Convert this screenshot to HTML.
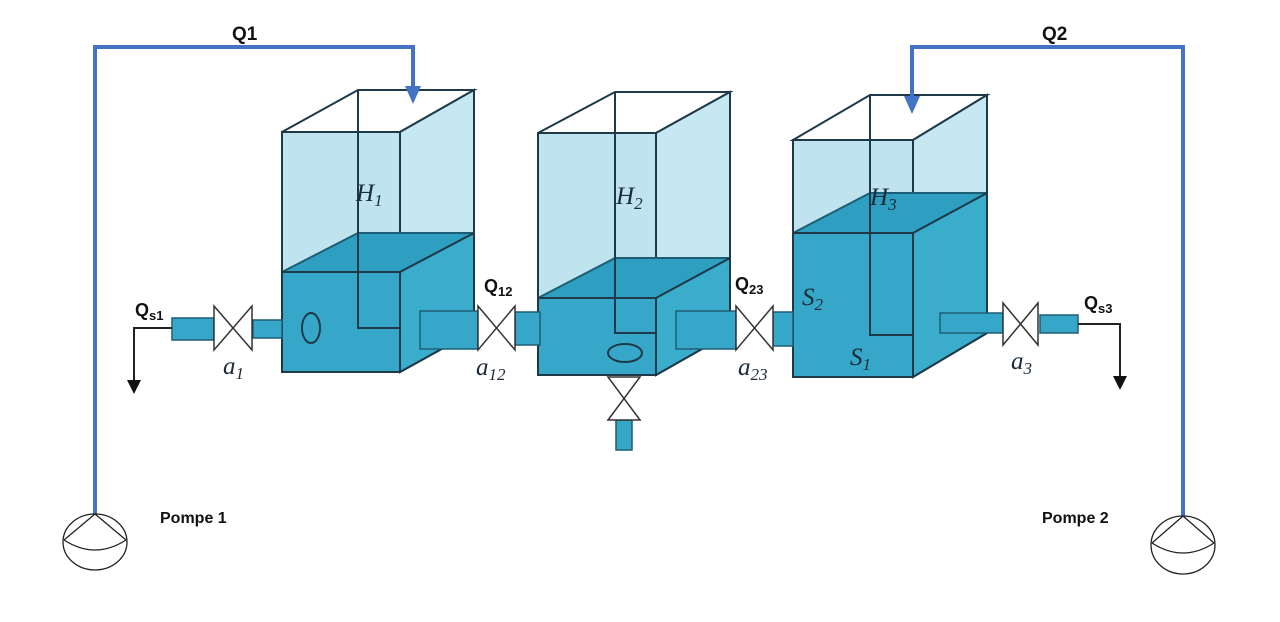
<!DOCTYPE html>
<html><head><meta charset="utf-8"><style>
html,body{margin:0;padding:0;background:#fff}
svg{display:block}
text{font-family:"Liberation Sans",sans-serif}
.lab{font-weight:bold;fill:#111}
.it{font-family:"Liberation Serif",serif;font-style:italic;fill:#1c2b3a}
</style></head><body>
<svg width="1280" height="622" viewBox="0 0 1280 622">
<rect width="1280" height="622" fill="#fff"/>

<!-- Tank 1 -->
<g stroke="#1e3a48" stroke-width="2">
<polygon points="282,132 400,132 474,90 358,90 282,132" fill="none"/>
<rect x="282" y="132" width="118" height="240" fill="#bfe4ef"/>
<polygon points="400,132 474,90 474,331 400,372" fill="#c6e8f2"/>
<polygon points="282,272 358,233 474,233 400,272" fill="#2e9fc0" stroke="#1e5e74"/>
<rect x="282" y="272" width="118" height="100" fill="#36a7c8"/>
<polygon points="400,272 474,233 474,331 400,372" fill="#3aaccc"/>
<polyline points="358,90 358,328 400,328" fill="none"/>
<ellipse cx="311" cy="328" rx="9" ry="15" fill="#36a7c8"/>
</g>
<!-- Tank 2 -->
<g stroke="#1e3a48" stroke-width="2">
<polygon points="538,133 656,133 730,92 615,92" fill="none"/>
<rect x="538" y="133" width="118" height="242" fill="#bfe4ef"/>
<polygon points="656,133 730,92 730,333 656,375" fill="#c6e8f2"/>
<polygon points="538,298 615,258 730,258 656,298" fill="#2e9fc0" stroke="#1e5e74"/>
<rect x="538" y="298" width="118" height="77" fill="#36a7c8"/>
<polygon points="656,298 730,258 730,333 656,375" fill="#3aaccc"/>
<polyline points="615,92 615,333 656,333" fill="none"/>
<ellipse cx="625" cy="353" rx="17" ry="9" fill="#36a7c8"/>
</g>
<!-- Tank 3 -->
<g stroke="#1e3a48" stroke-width="2">
<polygon points="793,140 913,140 987,95 870,95" fill="none"/>
<rect x="793" y="140" width="120" height="237" fill="#bfe4ef"/>
<polygon points="913,140 987,95 987,333 913,377" fill="#c6e8f2"/>
<polygon points="793,233 870,193 987,193 913,233" fill="#2e9fc0" stroke="#1e5e74"/>
<rect x="793" y="233" width="120" height="144" fill="#36a7c8"/>
<polygon points="913,233 987,193 987,333 913,377" fill="#3aaccc"/>
<polyline points="870,95 870,335 913,335" fill="none"/>
<line x1="870" y1="233" x2="870" y2="335"/>
</g>

<!-- Pipes & valves -->
<g fill="#36a7c8" stroke="#1e5e74" stroke-width="1.5">
<rect x="172" y="318" width="42" height="22"/>
<rect x="253" y="320" width="29" height="18"/>
<rect x="420" y="311" width="58" height="38"/>
<rect x="515" y="312" width="25" height="33"/>
<rect x="676" y="311" width="60" height="38"/>
<rect x="773" y="312" width="20" height="34"/>
<rect x="940" y="313" width="63" height="20"/>
<rect x="1040" y="315" width="38" height="18"/>
<rect x="616" y="420" width="16" height="30"/>
</g>
<g fill="#fff" stroke="#333" stroke-width="1.5">
<path d="M214,306 L252,350 L252,306 L214,350 Z"/>
<path d="M478,306 L515,350 L515,306 L478,350 Z"/>
<path d="M736,306 L773,350 L773,306 L736,350 Z"/>
<path d="M1003,303 L1038,345 L1038,303 L1003,345 Z"/>
<path d="M608,377 L640,420 L608,420 L640,377 Z"/>
</g>

<!-- Outflows -->
<g stroke="#222" stroke-width="2" fill="none">
<polyline points="172,328 134,328 134,382"/>
<polyline points="1078,324 1120,324 1120,378"/>
</g>
<polygon points="127,380 141,380 134,394" fill="#111"/>
<polygon points="1113,376 1127,376 1120,390" fill="#111"/>

<!-- Pump lines -->
<polyline points="95,514 95,47 413,47 413,90" fill="none" stroke="#4472c4" stroke-width="4"/>
<polygon points="405,86 421,86 413,104" fill="#4472c4"/>
<polyline points="1183,516 1183,47 912,47 912,100" fill="none" stroke="#4472c4" stroke-width="4"/>
<polygon points="904,96 920,96 912,114" fill="#4472c4"/>

<!-- Pumps -->
<g fill="none" stroke="#222" stroke-width="1.3">
<ellipse cx="95" cy="542" rx="32" ry="28"/>
<polyline points="64,540 95,514 126,540"/>
<path d="M64,540 Q95,560 126,540"/>
</g>
<g fill="none" stroke="#222" stroke-width="1.3">
<ellipse cx="1183" cy="545" rx="32" ry="29"/>
<polyline points="1152,543 1183,516 1214,543"/>
<path d="M1152,543 Q1183,563 1214,543"/>
</g>

<!-- Labels -->
<text class="lab" x="232" y="40" font-size="19">Q1</text>
<text class="lab" x="1042" y="40" font-size="19">Q2</text>
<text class="lab" x="160" y="523" font-size="16">Pompe 1</text>
<text class="lab" x="1042" y="523" font-size="16">Pompe 2</text>
<text class="lab" x="135" y="316" font-size="18">Q<tspan font-size="13" dy="4">s1</tspan></text>
<text class="lab" x="484" y="292" font-size="18">Q<tspan font-size="13" dy="4">12</tspan></text>
<text class="lab" x="735" y="290" font-size="18">Q<tspan font-size="13" dy="4">23</tspan></text>
<text class="lab" x="1084" y="309" font-size="18">Q<tspan font-size="13" dy="4">s3</tspan></text>
<text class="it" x="223" y="374" font-size="25">a<tspan font-size="17" dy="5">1</tspan></text>
<text class="it" x="476" y="375" font-size="25">a<tspan font-size="17" dy="5">12</tspan></text>
<text class="it" x="738" y="375" font-size="25">a<tspan font-size="17" dy="5">23</tspan></text>
<text class="it" x="1011" y="369" font-size="25">a<tspan font-size="17" dy="5">3</tspan></text>
<text class="it" x="356" y="201" font-size="25">H<tspan font-size="17" dy="5">1</tspan></text>
<text class="it" x="616" y="204" font-size="25">H<tspan font-size="17" dy="5">2</tspan></text>
<text class="it" x="870" y="205" font-size="25">H<tspan font-size="17" dy="5">3</tspan></text>
<text class="it" x="802" y="305" font-size="25">S<tspan font-size="17" dy="5">2</tspan></text>
<text class="it" x="850" y="365" font-size="25">S<tspan font-size="17" dy="5">1</tspan></text>
</svg>
</body></html>
